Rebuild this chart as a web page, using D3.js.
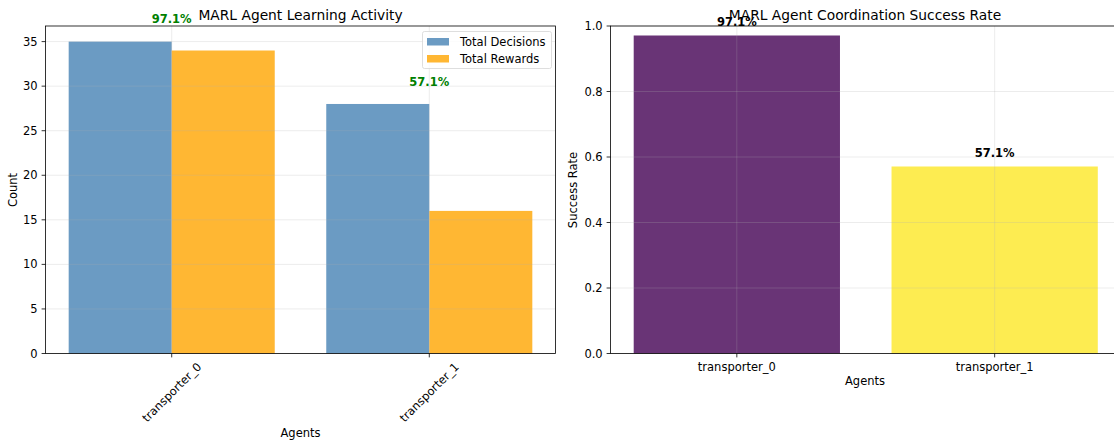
<!DOCTYPE html>
<html>
<head>
<meta charset="utf-8">
<script src="https://cdn.jsdelivr.net/npm/d3@7/dist/d3.min.js"></script>
<style>
  html, body { margin: 0; padding: 0; background: #fff; }
  svg { display: block; font-family: "DejaVu Sans", sans-serif; }
</style>
</head>
<body>
<svg id="chart" width="1114" height="445"></svg>
<script>
// Per-agent activity and coordination data
const agents = ["transporter_0", "transporter_1"];
const totalDecisions = [35, 28];
const totalRewards = [34, 16];
const successRate = [0.971, 0.571];
const countTicks = [0, 5, 10, 15, 20, 25, 30, 35];
const rateTicks = [0, 0.2, 0.4, 0.6, 0.8, 1.0];

const svg = d3.select("#chart");
svg.append("rect").attr("width", 1114).attr("height", 445).attr("fill", "#fff");

const FS = 11.5;       // tick / legend text size
const TITLE_FS = 13.8; // title size
const TICK = 3.9;
const pct = d3.format(".1%");

function frame(g, x, y, yTicks, yFmt) {
  const [x0, x1] = x.range();
  const [yb, yt] = y.range();
  // grid (drawn above bars, like the default axis ordering)
  const grid = g.append("g").attr("stroke", "#b0b0b0").attr("stroke-opacity", 0.3).attr("stroke-width", 0.8);
  yTicks.forEach(t => grid.append("line").attr("x1", x0).attr("x2", x1).attr("y1", y(t)).attr("y2", y(t)));
  agents.forEach((a, i) => grid.append("line").attr("x1", x(i)).attr("x2", x(i)).attr("y1", yt).attr("y2", yb));
  // spines
  g.append("rect").attr("x", x0).attr("y", yt).attr("width", x1 - x0).attr("height", yb - yt)
    .attr("fill", "none").attr("stroke", "#000").attr("stroke-width", 0.8);
  // y ticks
  const yt_ = g.append("g");
  yTicks.forEach(t => {
    yt_.append("line").attr("x1", x0 - TICK).attr("x2", x0).attr("y1", y(t)).attr("y2", y(t))
      .attr("stroke", "#000").attr("stroke-width", 0.8);
    yt_.append("text").attr("x", x0 - TICK - 3.9).attr("y", y(t)).attr("dy", "0.35em")
      .attr("text-anchor", "end").attr("font-size", FS).attr("fill", "#000").text(yFmt(t));
  });
  // x ticks
  agents.forEach((a, i) => {
    g.append("line").attr("x1", x(i)).attr("x2", x(i)).attr("y1", yb).attr("y2", yb + TICK)
      .attr("stroke", "#000").attr("stroke-width", 0.8);
  });
}

// ---------- Left: learning activity ----------
{
  const g = svg.append("g");
  const x = d3.scaleLinear().domain([-0.49, 1.49]).range([45.5, 555.5]);
  const y = d3.scaleLinear().domain([0, 36.75]).range([353.5, 26]);
  const w = 0.4;

  agents.forEach((a, i) => {
    g.append("rect").attr("x", x(i - w)).attr("width", x(i) - x(i - w))
      .attr("y", y(totalDecisions[i])).attr("height", y(0) - y(totalDecisions[i]))
      .attr("fill", "steelblue").attr("fill-opacity", 0.8);
    g.append("rect").attr("x", x(i)).attr("width", x(i + w) - x(i))
      .attr("y", y(totalRewards[i])).attr("height", y(0) - y(totalRewards[i]))
      .attr("fill", "orange").attr("fill-opacity", 0.8);
  });

  frame(g, x, y, countTicks, d3.format("d"));

  // rotated category labels
  agents.forEach((a, i) => {
    const t = g.append("text").attr("font-size", FS).attr("text-anchor", "middle")
      .attr("dy", "0.35em").text(a);
    const len = t.node().getComputedTextLength();
    const half = (len / 2 + FS * 0.58) * Math.SQRT1_2;
    const cx = x(i), cy = 360 + half;
    t.attr("transform", `translate(${cx},${cy}) rotate(-45)`);
  });

  // success-rate annotations
  const maxCount = d3.max(totalDecisions.concat(totalRewards));
  agents.forEach((a, i) => {
    const top = Math.max(totalDecisions[i], totalRewards[i]) + maxCount * 0.05;
    g.append("text").attr("x", x(i)).attr("y", y(top) - 2.7)
      .attr("text-anchor", "middle").attr("font-size", FS).attr("font-weight", "bold")
      .attr("fill", "green").text(pct(successRate[i]));
  });

  g.append("text").attr("x", 300.5).attr("y", 20).attr("text-anchor", "middle")
    .attr("font-size", TITLE_FS).text("MARL Agent Learning Activity");
  g.append("text").attr("x", 300.5).attr("y", 437).attr("text-anchor", "middle")
    .attr("font-size", FS).text("Agents");
  g.append("text").attr("transform", "translate(17,190) rotate(-90)").attr("text-anchor", "middle")
    .attr("font-size", FS).text("Count");

  // legend
  const lg = g.append("g");
  lg.append("rect").attr("x", 422.5).attr("y", 31.5).attr("width", 129).attr("height", 37).attr("rx", 2)
    .attr("fill", "#fff").attr("fill-opacity", 0.8).attr("stroke", "#d6d6d6").attr("stroke-width", 0.8);
  [["Total Decisions", "steelblue"], ["Total Rewards", "orange"]].forEach(([lab, c], k) => {
    const cy = 41.5 + k * 17;
    lg.append("rect").attr("x", 427).attr("y", cy - 3.5).attr("width", 22).attr("height", 7.5)
      .attr("fill", c).attr("fill-opacity", 0.8);
    lg.append("text").attr("x", 460).attr("y", cy).attr("dy", "0.35em").attr("font-size", FS).text(lab);
  });
}

// ---------- Right: coordination success rate ----------
{
  const g = svg.append("g");
  const x = d3.scaleLinear().domain([-0.49, 1.49]).range([610.5, 1121]);
  const y = d3.scaleLinear().domain([0, 1]).range([353.5, 26]);
  const colors = ["#440154", "#fde725"];
  const w = 0.8;

  agents.forEach((a, i) => {
    g.append("rect").attr("x", x(i - w / 2)).attr("width", x(i + w / 2) - x(i - w / 2))
      .attr("y", y(successRate[i])).attr("height", y(0) - y(successRate[i]))
      .attr("fill", colors[i]).attr("fill-opacity", 0.8);
  });

  frame(g, x, y, rateTicks, d3.format(".1f"));

  agents.forEach((a, i) => {
    g.append("text").attr("x", x(i)).attr("y", 367).attr("dy", "0.35em")
      .attr("text-anchor", "middle").attr("font-size", FS).text(a);
  });

  agents.forEach((a, i) => {
    g.append("text").attr("x", x(i)).attr("y", y(successRate[i] + 0.02) - 2.7)
      .attr("text-anchor", "middle").attr("font-size", FS).attr("font-weight", "bold")
      .attr("fill", "#000").text(pct(successRate[i]));
  });

  g.append("text").attr("x", 865).attr("y", 20).attr("text-anchor", "middle")
    .attr("font-size", TITLE_FS).text("MARL Agent Coordination Success Rate");
  g.append("text").attr("x", 865).attr("y", 385).attr("text-anchor", "middle")
    .attr("font-size", FS).text("Agents");
  g.append("text").attr("transform", "translate(577,190) rotate(-90)").attr("text-anchor", "middle")
    .attr("font-size", FS).text("Success Rate");
}
</script>
</body>
</html>
